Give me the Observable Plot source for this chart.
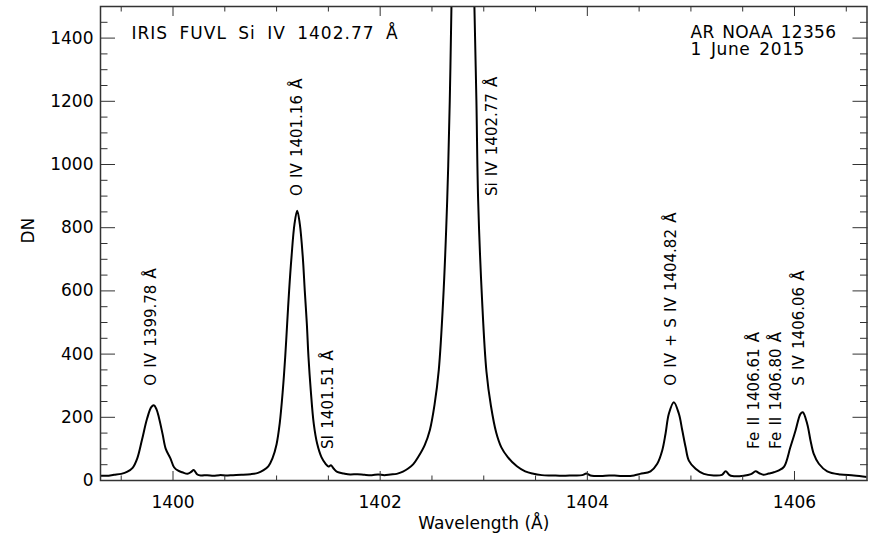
<!DOCTYPE html>
<html>
<head>
<meta charset="utf-8">
<script src="https://cdn.jsdelivr.net/npm/d3@7"></script>
<script src="https://cdn.jsdelivr.net/npm/@observablehq/plot@0.6"></script>
<style>
  body { margin: 0; background: #fff; }
</style>
</head>
<body>
<div id="chart"></div>
<script>
// IRIS FUV long-wavelength spectrum around Si IV 1402.77 Å
const wavelength = [
  1399.30, 1399.36, 1399.43, 1399.50, 1399.56, 1399.61, 1399.655, 1399.70, 1399.75, 1399.79,
  1399.815, 1399.84, 1399.865, 1399.90, 1399.93, 1399.975, 1400.01, 1400.05, 1400.09, 1400.14,
  1400.175, 1400.20, 1400.235, 1400.27, 1400.33, 1400.39, 1400.45, 1400.51, 1400.58, 1400.66,
  1400.75, 1400.82, 1400.87, 1400.92, 1400.96, 1401.00, 1401.03, 1401.06, 1401.083, 1401.102,
  1401.121, 1401.144, 1401.173, 1401.199, 1401.224, 1401.253, 1401.272, 1401.292, 1401.308, 1401.330,
  1401.359, 1401.392, 1401.433, 1401.475, 1401.50, 1401.525, 1401.55, 1401.585, 1401.65, 1401.71,
  1401.78, 1401.85, 1401.92, 1401.98, 1402.04, 1402.10, 1402.16, 1402.22, 1402.27, 1402.32,
  1402.37, 1402.43, 1402.48, 1402.525, 1402.566, 1402.608, 1402.647, 1402.672, 1402.688, 1402.72,
  1402.76, 1402.80, 1402.84, 1402.88, 1402.910, 1402.929, 1402.946, 1402.984, 1403.026, 1403.07,
  1403.12, 1403.17, 1403.23, 1403.32, 1403.40, 1403.47, 1403.56, 1403.66, 1403.76, 1403.86,
  1403.95, 1403.99, 1404.03, 1404.13, 1404.21, 1404.29, 1404.37, 1404.45, 1404.51, 1404.61,
  1404.675, 1404.723, 1404.755, 1404.787, 1404.835, 1404.884, 1404.917, 1404.949, 1404.98, 1405.045,
  1405.125, 1405.22, 1405.30, 1405.335, 1405.37, 1405.40, 1405.51, 1405.58, 1405.625, 1405.66,
  1405.70, 1405.75, 1405.80, 1405.85, 1405.90, 1405.96, 1406.01, 1406.058, 1406.08, 1406.123,
  1406.155, 1406.186, 1406.235, 1406.316, 1406.444, 1406.573, 1406.70
];
const dn = [
  15, 15, 18, 21, 28, 40, 70, 128, 196, 232,
  238, 226, 198, 146, 100, 70, 42, 31, 26, 21,
  27, 33, 19, 16, 17, 15, 17, 16, 17, 18,
  20, 24, 32, 45, 70, 115, 180, 285, 390, 496,
  601, 707, 812, 854, 812, 707, 601, 496, 390, 285,
  179, 116, 74, 52, 44, 48, 38, 27, 22, 19,
  20, 18, 17, 19, 17, 19, 21, 28, 38, 52,
  76, 112, 160, 240, 350, 570, 886, 1203, 1497, 2050,
  2420, 2520, 2420, 2050, 1497, 1203, 886, 570, 345, 235,
  152, 105, 75, 45, 29, 22, 17, 16, 15, 16,
  17, 22, 16, 14, 16, 15, 14, 16, 21, 29,
  53, 95, 148, 211, 248, 211, 158, 105, 63, 37,
  21, 16, 18, 29, 18, 14, 15, 20, 29, 23,
  18, 22, 26, 32, 44, 105, 158, 211, 216, 179,
  126, 84, 53, 29, 19, 16, 11
];

// Line identifications, written upward from the given point
const lineLabels = [
  "O IV 1399.78 Å", "O IV 1401.16 Å", "SI 1401.51 Å", "Si IV 1402.77 Å",
  "O IV + S IV 1404.82 Å", "Fe II 1406.61 Å", "Fe II 1406.80 Å", "S IV 1406.06 Å"
];
const labelWavelength = [1399.79, 1401.196, 1401.496, 1403.085, 1404.813, 1405.609, 1405.826, 1406.048];
const labelDN = [300, 900, 100, 900, 300, 100, 100, 300];

const titleText = "IRIS FUVL Si IV 1402.77 Å";
const regionText = "AR NOAA 12356";
const dateText = "1 June 2015";

const majorX = [1400, 1402, 1404, 1406];
const minorX = [1399.5, 1400.5, 1401, 1401.5, 1402.5, 1403, 1403.5, 1404.5, 1405, 1405.5, 1406.5];
const majorY = [0, 200, 400, 600, 800, 1000, 1200, 1400];
const minorY = [50, 100, 150, 250, 300, 350, 450, 500, 550, 650, 700, 750, 850, 900, 950,
                1050, 1100, 1150, 1250, 1300, 1350, 1450];

const spectrum = wavelength.map((w, i) => ({w, v: dn[i]}));
const labels = lineLabels.map((t, i) => ({t, w: labelWavelength[i], v: labelDN[i]}));
const blank = () => "";
const axisColor = "#333";

const chart = Plot.plot({
  width: 873,
  height: 535,
  marginLeft: 100,
  marginRight: 6.5,
  marginTop: 6,
  marginBottom: 55,
  x: {domain: [1399.3, 1406.7]},
  y: {domain: [0, 1500]},
  style: {fontFamily: "DejaVu Sans", fontSize: "17px", color: "#000", background: "#fff"},
  marks: [
    Plot.line(spectrum, {x: "w", y: "v", stroke: "#000", strokeWidth: 2, curve: "catmull-rom", clip: true}),
    Plot.text(labels, {x: "w", y: "v", text: "t", rotate: -90, textAnchor: "start", lineAnchor: "middle",
      fontSize: 15, fill: "#000"}),

    // inward ticks on all four sides
    Plot.axisX({anchor: "bottom", ticks: majorX, tickSize: -9, tickFormat: blank, label: null, stroke: axisColor}),
    Plot.axisX({anchor: "bottom", ticks: minorX, tickSize: -4.5, tickFormat: blank, label: null, stroke: axisColor}),
    Plot.axisX({anchor: "top", ticks: majorX, tickSize: -9, tickFormat: blank, label: null, stroke: axisColor}),
    Plot.axisX({anchor: "top", ticks: minorX, tickSize: -4.5, tickFormat: blank, label: null, stroke: axisColor}),
    Plot.axisY({anchor: "left", ticks: majorY, tickSize: -15, tickFormat: blank, label: null, stroke: axisColor}),
    Plot.axisY({anchor: "left", ticks: minorY, tickSize: -7.5, tickFormat: blank, label: null, stroke: axisColor}),
    Plot.axisY({anchor: "right", ticks: majorY, tickSize: -15, tickFormat: blank, label: null, stroke: axisColor}),
    Plot.axisY({anchor: "right", ticks: minorY, tickSize: -7.5, tickFormat: blank, label: null, stroke: axisColor}),

    // tick labels
    Plot.axisX({anchor: "bottom", ticks: majorX, tickSize: 0, tickPadding: 15, tickFormat: d3.format("d"), label: null}),
    Plot.axisY({anchor: "left", ticks: majorY, tickSize: 0, tickPadding: 7, tickFormat: d3.format("d"), label: null}),

    Plot.frame({stroke: axisColor, strokeWidth: 1.5}),

    // axis titles
    Plot.text(["Wavelength (Å)"], {frameAnchor: "bottom", lineAnchor: "bottom", dy: 48, fontSize: 17, fill: "#000"}),
    Plot.text(["DN"], {frameAnchor: "left", rotate: -90, dx: -72, fontSize: 17, fill: "#000"}),

    // annotations
    Plot.text([titleText], {frameAnchor: "top-left", textAnchor: "start", lineAnchor: "bottom",
      dx: 31, dy: 32, fontSize: 17, fill: "#000"}),
    Plot.text([regionText], {frameAnchor: "top-left", textAnchor: "start", lineAnchor: "bottom",
      dx: 590, dy: 31, fontSize: 17, fill: "#000"}),
    Plot.text([dateText], {frameAnchor: "top-left", textAnchor: "start", lineAnchor: "bottom",
      dx: 590, dy: 48, fontSize: 17, fill: "#000"})
  ]
});

// wider, instrument-style letter and word spacing for the annotations
const spacing = new Map([
  [titleText, {letter: 1, word: 5}],
  [regionText, {letter: 0.3, word: 2}],
  [dateText, {letter: 0.6, word: 3}]
]);
d3.select(chart).selectAll("text").each(function () {
  const s = spacing.get(this.textContent);
  if (s) {
    this.setAttribute("letter-spacing", s.letter);
    this.setAttribute("word-spacing", s.word);
  } else if (lineLabels.includes(this.textContent)) {
    this.setAttribute("word-spacing", 1.5);
  }
});

document.getElementById("chart").appendChild(chart);
</script>
</body>
</html>
